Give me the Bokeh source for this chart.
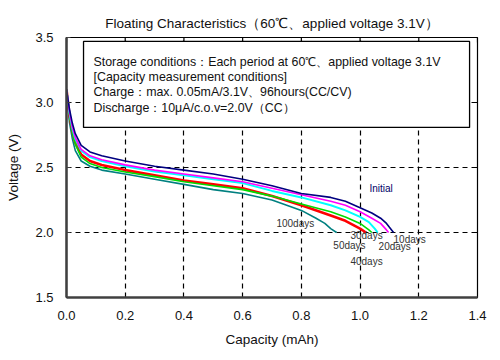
from bokeh.plotting import figure
from bokeh.models import Range1d, FixedTicker, NumeralTickFormatter
from bokeh.core.properties import value
from bokeh.embed import file_html
from bokeh.resources import INLINE

# ---- data ----
cap_initial = [0, 0.01, 0.02, 0.03, 0.05, 0.08, 0.12, 0.2, 0.3, 0.4, 0.5, 0.6, 0.7, 0.8, 0.9, 0.95, 1.0, 1.04, 1.07, 1.09, 1.1, 1.114]
v_initial   = [3.10, 2.95, 2.84, 2.76, 2.67, 2.62, 2.59, 2.55, 2.51, 2.48, 2.45, 2.41, 2.36, 2.30, 2.27, 2.24, 2.19, 2.15, 2.11, 2.07, 2.04, 2.0]

cap_10 = [0, 0.01, 0.02, 0.03, 0.05, 0.08, 0.12, 0.2, 0.3, 0.4, 0.5, 0.6, 0.7, 0.8, 0.9, 0.95, 1.0, 1.04, 1.07, 1.09, 1.097]
v_10   = [3.10, 2.93, 2.81, 2.73, 2.64, 2.59, 2.56, 2.52, 2.48, 2.45, 2.42, 2.39, 2.34, 2.29, 2.24, 2.21, 2.16, 2.11, 2.07, 2.02, 2.0]

cap_20 = [0, 0.01, 0.02, 0.03, 0.05, 0.08, 0.12, 0.2, 0.3, 0.4, 0.5, 0.6, 0.7, 0.8, 0.9, 0.95, 1.0, 1.03, 1.05, 1.06]
v_20   = [3.10, 2.92, 2.80, 2.72, 2.63, 2.58, 2.55, 2.51, 2.47, 2.44, 2.41, 2.38, 2.32, 2.27, 2.21, 2.17, 2.12, 2.08, 2.03, 2.0]

cap_30 = [0, 0.01, 0.02, 0.03, 0.05, 0.08, 0.12, 0.2, 0.3, 0.4, 0.5, 0.6, 0.7, 0.8, 0.9, 0.95, 1.0, 1.03, 1.04]
v_30   = [3.10, 2.90, 2.77, 2.68, 2.58, 2.53, 2.50, 2.465, 2.43, 2.39, 2.36, 2.33, 2.28, 2.22, 2.16, 2.12, 2.07, 2.02, 2.0]

cap_40 = [0, 0.01, 0.02, 0.03, 0.05, 0.08, 0.12, 0.2, 0.3, 0.4, 0.5, 0.6, 0.7, 0.8, 0.9, 0.95, 1.0, 1.02]
v_40   = [3.10, 2.90, 2.78, 2.69, 2.60, 2.55, 2.52, 2.48, 2.44, 2.40, 2.37, 2.34, 2.28, 2.21, 2.13, 2.09, 2.03, 2.0]

cap_100 = [0, 0.01, 0.02, 0.03, 0.05, 0.08, 0.12, 0.2, 0.3, 0.4, 0.5, 0.6, 0.7, 0.75, 0.8, 0.85, 0.88, 0.9, 0.92]
v_100   = [3.10, 2.85, 2.72, 2.63, 2.55, 2.51, 2.48, 2.45, 2.41, 2.37, 2.33, 2.30, 2.25, 2.21, 2.17, 2.11, 2.07, 2.03, 2.0]

series_caps = [cap_initial, cap_10, cap_20, cap_30, cap_40, cap_100]
series_volts = [v_initial, v_10, v_20, v_30, v_40, v_100]
series_colors = ["#000080", "#FF00FF", "#00FFFF", "#00DD00", "#FF0000", "#008080"]
series_widths = [1.6, 1.6, 2.0, 1.6, 2.6, 1.6]

label_texts = ["Initial", "100days", "30days", "10days", "50days", "20days", "40days"]
label_x = [1.032, 0.715, 0.967, 1.114, 0.909, 1.063, 0.967]
label_y = [2.338, 2.069, 1.977, 1.946, 1.90, 1.892, 1.777]
label_colors = ["#000066", "#333333", "#333333", "#333333", "#333333", "#333333", "#333333"]

box_lines = [
    "Storage conditions：Each period at 60℃、applied voltage 3.1V",
    "[Capacity measurement conditions]",
    "Charge：max. 0.05mA/3.1V、96hours(CC/CV)",
    "Discharge：10μA/c.o.v=2.0V（CC）",
]
box_line_y = [3.315, 3.20, 3.077, 2.954]

x_ticks = [0.0, 0.2, 0.4, 0.6, 0.8, 1.0, 1.2, 1.4]
y_ticks = [1.5, 2.0, 2.5, 3.0, 3.5]

FONT = "Liberation Sans"
X_MIN, X_MAX, Y_MIN, Y_MAX = 0.0, 1.4, 1.5, 3.5

p = figure(width=500, height=360, output_backend="svg", toolbar_location=None,
           x_range=Range1d(X_MIN, X_MAX), y_range=Range1d(Y_MIN, Y_MAX),
           min_border_left=66, min_border_right=23, min_border_top=37, min_border_bottom=63,
           title="Floating Characteristics（60℃、applied voltage 3.1V）")
p.title.align = "center"
p.title.text_font = FONT
p.title.text_font_size = "13.5px"
p.title.text_font_style = "normal"
p.title.text_color = "#111111"
p.title.offset = 0
p.title.standoff = 13
p.outline_line_color = "black"
p.outline_line_width = 1.2
p.background_fill_color = "white"
p.border_fill_color = "white"

# axes
for ax, ticks in ((p.xaxis[0], x_ticks), (p.yaxis[0], y_ticks)):
    ax.ticker = FixedTicker(ticks=ticks)
    ax.axis_line_color = "#404040"
    ax.axis_line_width = 2.5
    ax.major_tick_out = 0
    ax.minor_tick_line_color = None
    ax.major_label_text_font = FONT
    ax.major_label_text_font_size = "13px"
    ax.major_label_text_color = "#111111"
    ax.axis_label_text_font = FONT
    ax.axis_label_text_font_size = "13.5px"
    ax.axis_label_text_font_style = "normal"
    ax.axis_label_text_color = "#111111"
    ax.formatter = NumeralTickFormatter(format="0.0")
p.xaxis[0].major_tick_in = 0
p.xaxis[0].major_label_standoff = 13
p.xaxis[0].axis_label = "Capacity (mAh)"
p.xaxis[0].axis_label_standoff = 9
p.yaxis[0].major_tick_in = 4
p.yaxis[0].major_tick_line_color = "#404040"
p.yaxis[0].major_label_standoff = 13
p.yaxis[0].axis_label = "Voltage (V)"
p.yaxis[0].axis_label_standoff = 11

# grid
p.xgrid.ticker = FixedTicker(ticks=x_ticks[1:-1])
p.ygrid.ticker = FixedTicker(ticks=y_ticks[1:-1])
for g in (p.xgrid, p.ygrid):
    g.grid_line_color = "black"
    g.grid_line_dash = "5 4"
    g.grid_line_width = 1.2

# inward ticks on top and right borders (from tick lists)
top_len = (Y_MAX - Y_MIN) * 5 / 260
right_len = (X_MAX - X_MIN) * 5 / 411
p.segment(x0=x_ticks, y0=[Y_MAX] * len(x_ticks), x1=x_ticks, y1=[Y_MAX - top_len] * len(x_ticks),
          line_color="black", line_width=1.2)
p.segment(x0=[X_MAX] * len(y_ticks), y0=y_ticks, x1=[X_MAX - right_len] * len(y_ticks), y1=y_ticks,
          line_color="black", line_width=1.2)

# curves (drawn from lowest to highest so initial is on top)
for caps, volts, col, w in reversed(list(zip(series_caps, series_volts, series_colors, series_widths))):
    p.line(caps, volts, line_color=col, line_width=w)

# info box
p.quad(left=[0.058], right=[1.373], bottom=[2.808], top=[3.47],
       fill_color="white", line_color="black", line_width=1.3)
p.text(x=[0.092] * len(box_lines), y=box_line_y, text=box_lines,
       text_font=value(FONT), text_font_size="12.4px", text_baseline="middle",
       text_align="left", text_color="#111111")

# curve labels
p.text(x=label_x, y=label_y, text=label_texts, text_color=label_colors,
       text_font=value(FONT), text_font_size="10px", text_baseline="middle",
       text_align="left")

open("out.html", "w").write(file_html(p, INLINE))
